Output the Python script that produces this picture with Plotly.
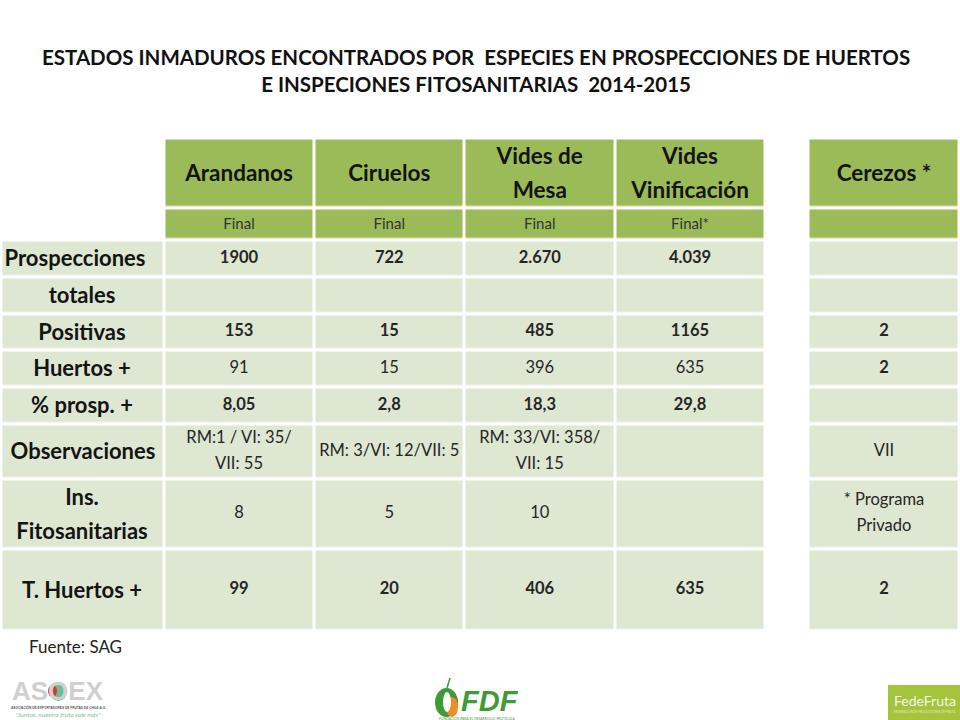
import plotly.graph_objects as go

FONT = 'Lato'

title_text = ('ESTADOS INMADUROS ENCONTRADOS POR  ESPECIES EN PROSPECCIONES DE HUERTOS<br>'
              'E INSPECIONES FITOSANITARIAS  2014-2015')
source_text = 'Fuente: SAG'

columns = ['Arandanos', 'Ciruelos', 'Vides de<br>Mesa', 'Vides<br>Vinificación', 'Cerezos *']
status = ['Final', 'Final', 'Final', 'Final*', '']
row_labels = ['Prospecciones', 'totales', 'Positivas', 'Huertos +', '% prosp. +',
              'Observaciones', 'Ins.<br>Fitosanitarias', 'T. Huertos +']

prospecciones = ['1900', '722', '2.670', '4.039', '']
totales = ['', '', '', '', '']
positivas = ['153', '15', '485', '1165', '2']
huertos = ['91', '15', '396', '635', '2']
pct_prosp = ['8,05', '2,8', '18,3', '29,8', '']
observaciones = ['RM:1 / VI: 35/<br>VII: 55', 'RM: 3/VI: 12/VII: 5',
                 'RM: 33/VI: 358/<br>VII: 15', '', 'VII']
inspecciones = ['8', '5', '10', '', '* Programa<br>Privado']
total_huertos = ['99', '20', '406', '635', '2']

table_rows = [prospecciones, totales, positivas, huertos, pct_prosp,
              observaciones, inspecciones, total_huertos]
bold_rows = [True, True, True, False, True, False, False, True]

# pixel grid of the slide, edges sit in the middle of the white gaps
x_edges = [1.5, 164, 314, 464.5, 615, 765, 808.5, 959.5]
y_edges = [138.5, 208.5, 240, 277, 314, 350.5, 387, 424, 479, 549, 631]
x_mid = [(a + b) / 2 for a, b in zip(x_edges[:-1], x_edges[1:])]
y_mid = [(a + b) / 2 for a, b in zip(y_edges[:-1], y_edges[1:])]
col_x = [x_mid[1], x_mid[2], x_mid[3], x_mid[4], x_mid[6]]
label_x = [75, 82, 82, 82, 82, 83, 82, 82]

# 0 blank, 1 dark green, 2 pale green
z = []
for r in range(len(y_mid)):
    shade = 1 if r < 2 else 2
    first = 0 if r < 2 else 2
    z.append([first, shade, shade, shade, shade, 0, shade])


def add_cells(fig, xs, ys, texts, size, color, spacing, bold=None):
    # plotly fija el interlineado, asi que cada linea va como su propio punto
    px, py, pt = [], [], []
    for k, (x, y, text) in enumerate(zip(xs, ys, texts)):
        lines = text.split('<br>')
        for n, line in enumerate(lines):
            px.append(x)
            py.append(y + (n - (len(lines) - 1) / 2) * spacing)
            is_bold = bold[k] if bold else False
            pt.append('<b>' + line + '</b>' if is_bold and line else line)
    fig.add_trace(go.Scatter(x=px, y=py, text=pt, mode='text',
                             textfont=dict(family=FONT, size=size, color=color)))


fig = go.Figure()

fig.add_trace(go.Heatmap(
    x=x_edges, y=y_edges, z=z, xgap=3, ygap=3.5, zmin=0, zmax=2, showscale=False,
    hoverinfo='skip',
    colorscale=[[0, '#FFFFFF'], [0.33, '#FFFFFF'], [0.33, '#9BBB59'], [0.66, '#9BBB59'],
                [0.66, '#DEE7D1'], [1, '#DEE7D1']],
))

# encabezados
add_cells(fig, col_x, [y_mid[0] + 2] * 5, columns, 22.5, '#141414', 34, [True] * 5)
add_cells(fig, col_x, [y_mid[1] + 1] * 5, status, 15, '#333333', 0)

# etiquetas de filas
add_cells(fig, label_x, [v + 2 for v in y_mid[2:]], row_labels, 22, '#141414', 34, [True] * 8)

# valores
for i, row in enumerate(table_rows):
    # los 2 de cerezos van en negrita aunque la fila no
    flags = [bold_rows[i] or (i == 3 and j == 4) for j in range(5)]
    add_cells(fig, col_x, [y_mid[i + 2]] * 5, row, 16.5, '#262626', 26, flags)

fig.add_annotation(x=476, y=70, text='<b>' + title_text + '</b>', showarrow=False,
                   font=dict(family=FONT, size=20.5, color='#111111'), align='center')
fig.add_annotation(x=27, y=646, text=source_text, showarrow=False, xanchor='left',
                   font=dict(family=FONT, size=17, color='#222222'))

# logos
fig.add_annotation(x=58, y=691, text='<b>ASOEX</b>', showarrow=False,
                   font=dict(family='Liberation Sans', size=26, color='#D0D0D0'))
fig.add_shape(type='circle', x0=50, x1=67, y0=682, y1=701, fillcolor='#6DBB99', line_width=0)
fig.add_shape(type='circle', x0=48, x1=57, y0=685, y1=697, fillcolor='#D9363A', line_width=0)
fig.add_annotation(x=58, y=707, text='<b>ASOCIACIÓN DE EXPORTADORES DE FRUTAS DE CHILE A.G.</b>', showarrow=False,
                   font=dict(family='Liberation Sans', size=3.2, color='#555555'))
fig.add_annotation(x=58, y=714, text='<i>"Juntos, nuestra fruta vale más"</i>', showarrow=False,
                   font=dict(family=FONT, size=6.5, color='#7FBFA0'))

fig.add_shape(type='circle', x0=435, x1=458, y0=688, y1=717, fillcolor='#3E9B35', line_width=0)
fig.add_shape(type='circle', x0=446, x1=458, y0=697, y1=717, fillcolor='#F28C28', line_width=0)
fig.add_shape(type='circle', x0=443, x1=451, y0=692, y1=712, fillcolor='#FFFFFF', line_width=0)
fig.add_shape(type='line', x0=447, x1=450, y0=688, y1=678, line=dict(color='#3E9B35', width=1.5))
fig.add_annotation(x=490, y=701, text='<b><i>FDF</i></b>', showarrow=False,
                   font=dict(family='Liberation Sans', size=29, color='#3E9B35'))
fig.add_annotation(x=477, y=718, text='FUNDACIÓN PARA EL DESARROLLO FRUTÍCOLA', showarrow=False,
                   font=dict(family=FONT, size=3.4, color='#4C9A44'))

fig.add_shape(type='rect', x0=888, x1=960, y0=685, y1=720, fillcolor='#A3C43C', line_width=0)
fig.add_annotation(x=925, y=700, text='FedeFruta', showarrow=False,
                   font=dict(family=FONT, size=14, color='#F4F8E4'))
fig.add_annotation(x=925, y=711, text='FEDERACIÓN DE PRODUCTORES DE FRUTA', showarrow=False,
                   font=dict(family=FONT, size=3, color='#E4EDC0'))

fig.update_xaxes(range=[0, 960], visible=False, fixedrange=True)
fig.update_yaxes(range=[720, 0], visible=False, fixedrange=True)
fig.update_layout(width=960, height=720, margin=dict(l=0, r=0, t=0, b=0),
                  plot_bgcolor='white', paper_bgcolor='white', showlegend=False)

# la pagina trae margen de 8px y corta la figura
fig.write_html('out.html', config=dict(displayModeBar=False),
               post_script="document.body.style.margin='0';")
